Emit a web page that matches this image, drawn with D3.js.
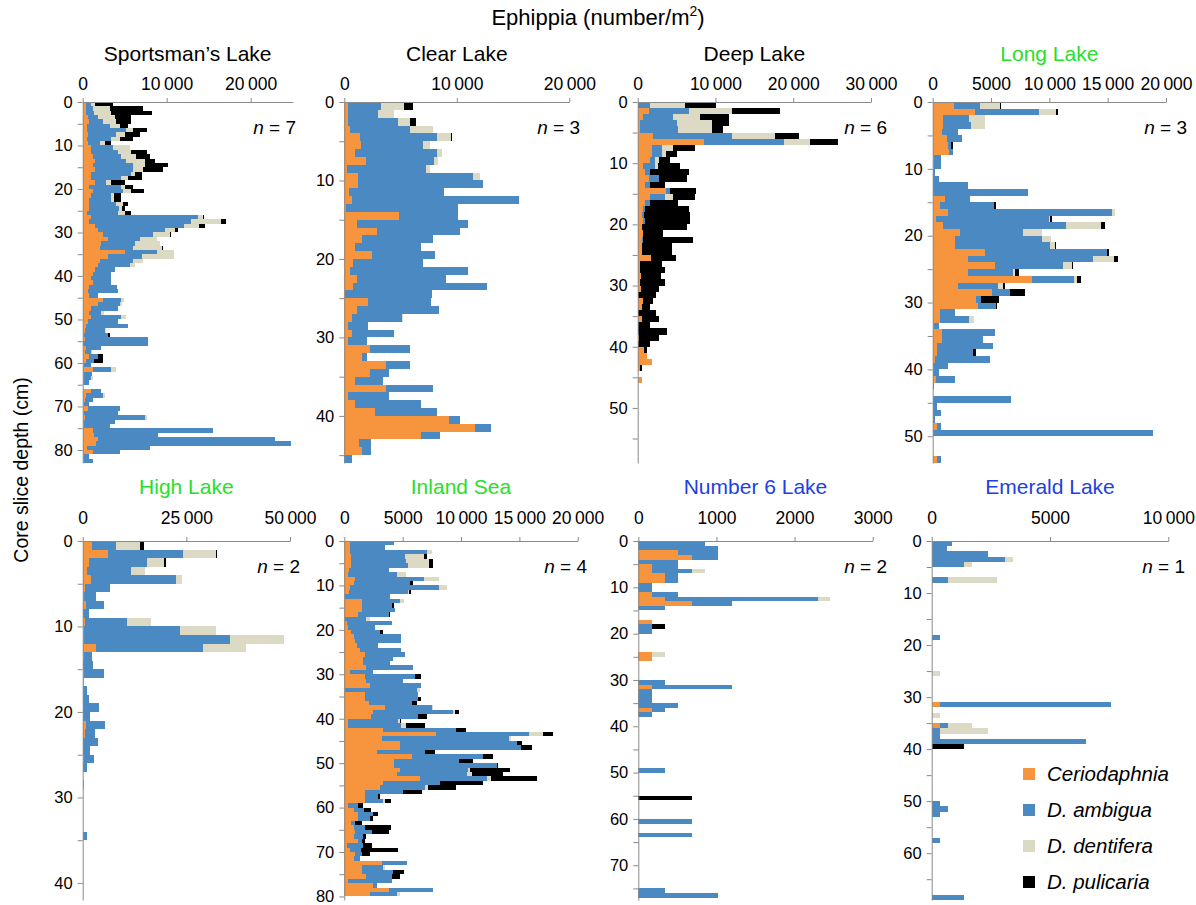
<!DOCTYPE html>
<html>
<head>
<meta charset="utf-8">
<script src="https://cdn.jsdelivr.net/npm/d3@7"></script>
<style>
  body { margin: 0; background: #fff; }
  svg { display: block; }
  text { font-family: "Liberation Sans", Arial, Helvetica, sans-serif; }
</style>
</head>
<body>
<svg id="chart" width="1196" height="905"></svg>
<script>
// species, in stacking order
const speciesNames = ["Ceriodaphnia", "D. ambigua", "D. dentifera", "D. pulicaria"];
const speciesColors = ["#f7943e", "#4a89c2", "#dcd9c5", "#000000"];

const lakeNames = ["Sportsman\u2019s Lake", "Clear Lake", "Deep Lake", "Long Lake",
                   "High Lake", "Inland Sea", "Number 6 Lake", "Emerald Lake"];
const lakeCores = [7, 3, 6, 3, 2, 4, 2, 1];
const titleColors = ["#000", "#000", "#000", "#27e027", "#27e027", "#27e027", "#1d3fe3", "#1d3fe3"];
const xMaxes = [25000, 20000, 30000, 20000, 50000, 20000, 3000, 10000];
const xTickValues = [
  [0, 10000, 20000], [0, 10000, 20000], [0, 10000, 20000, 30000], [0, 5000, 10000, 15000, 20000],
  [0, 25000, 50000], [0, 5000, 10000, 15000, 20000], [0, 1000, 2000, 3000], [0, 5000, 10000]
];
const depthMaxes = [83, 46, 59, 54, 42, 80.8, 77.5, 69];

// ephippia per m2 for each 1 cm slice: [Ceriodaphnia, D. ambigua, D. dentifera, D. pulicaria]
const sportsman = [
  [400,600,500,2100],[400,800,2000,4000],[400,1000,2000,4800],[600,1200,2000,2000],[800,1600,1600,1700],
  [500,2700,1200,1000],[500,4700,800,1600],[600,3400,1000,1800],[500,2900,1000,1600],[600,1400,600,800],
  [1000,2600,2000,0],[1000,3200,1600,1800],[1200,3400,1800,1600],[1500,3700,2200,1200],[1200,4800,1400,2700],
  [1500,4500,1200,2400],[1000,4800,400,800],[1000,3600,800,1700],[1500,1300,600,1600],[800,3800,400,1000],
  [1200,3600,1000,1500],[1000,2400,300,900],[800,2600,300,900],[800,3200,800,600],[800,3500,400,300],
  [500,3700,800,700],[1000,12700,600,100],[800,12100,3600,500],[1500,10600,1800,700],[1800,8000,1200,300],
  [2400,6000,2000,100],[3000,3800,2000,0],[2200,4000,3000,0],[2000,4000,3400,200],[5000,3900,2000,0],
  [3000,4000,3900,0],[2000,4000,1200,0],[1800,3800,600,0],[1500,2300,0,0],[1200,2200,0,0],
  [1000,2400,0,0],[1200,2200,0,0],[800,3300,0,0],[600,3600,0,0],[800,1000,0,0],
  [2400,2200,300,0],[1800,2600,300,0],[1000,3200,0,0],[800,1400,300,0],[1000,3600,500,0],
  [600,3600,0,0],[400,5000,0,0],[300,2300,200,0],[200,2800,0,200],[300,7500,0,0],
  [0,7800,0,0],[400,1800,0,0],[300,700,100,0],[800,1000,0,600],[400,1000,0,1000],
  [200,800,0,0],[1200,2200,600,0],[200,900,0,0],[200,800,200,0],[200,600,0,0],
  [0,0,0,0],[1000,1200,0,0],[400,2000,200,0],[300,900,0,0],[200,600,0,0],
  [600,3800,0,0],[200,4000,0,0],[300,7100,200,0],[200,3600,0,0],[200,3000,0,0],
  [1200,14300,0,0],[1400,7600,0,0],[1800,21100,0,0],[1600,23200,0,0],[500,7500,0,0],
  [1200,3200,0,0],[200,600,0,0],[200,1000,0,0]
];
const clear = [
  [350,2950,2000,800],[350,2650,1400,50],[350,4450,1000,600],[500,5300,2100,0],[1400,6800,1300,100],
  [1450,5550,600,0],[950,7250,500,0],[1900,6100,300,0],[200,7100,300,0],[1200,10200,700,0],
  [1200,11100,0,0],[450,8450,0,0],[650,14850,0,0],[150,9950,0,0],[4900,5200,0,0],
  [1150,9850,0,0],[2900,7400,0,0],[1550,6350,0,0],[950,5850,0,0],[2500,5600,0,0],
  [800,6200,0,0],[500,10500,0,0],[1150,7900,0,0],[800,11900,0,0],[50,7750,0,0],
  [2150,5550,0,0],[1150,7250,0,0],[650,4450,150,0],[300,1850,0,0],[650,3750,0,0],
  [300,1700,0,0],[2300,3500,0,0],[1550,450,0,0],[3700,2100,0,0],[2300,1700,0,0],
  [950,2450,0,0],[3700,4200,0,0],[300,3700,0,0],[950,5850,0,0],[2700,5500,0,0],
  [9300,1000,0,0],[11600,1400,0,0],[6800,1700,0,0],[1350,1000,0,0],[1600,750,0,0],
  [0,650,0,0]
];
const deep = [
  [0,1600,4500,4000],[1400,5250,5450,6200],[700,3800,3500,3800],[300,4700,4500,2300],[300,4900,4300,1500],
  [2000,10100,5600,3100],[8500,10300,3300,3600],[1900,1200,1500,2800],[1800,1300,600,1400],[1600,600,600,1300],
  [700,1500,400,2900],[900,700,0,5000],[1400,1300,0,3600],[900,700,0,1900],[3700,400,0,3400],
  [1600,1900,1000,2900],[900,700,0,3600],[700,200,0,5750],[500,300,0,5900],[700,200,0,5800],
  [500,100,0,5800],[700,0,0,2500],[600,100,0,6400],[600,0,0,3800],[500,0,0,3900],
  [1700,0,0,3200],[300,0,0,2800],[300,0,0,3200],[400,0,0,2600],[300,0,0,3200],
  [400,0,0,2300],[100,0,0,2300],[700,0,0,1300],[500,0,0,1100],[100,0,0,2300],
  [500,0,0,2300],[100,0,0,1500],[100,0,0,3700],[200,0,0,2500],[100,0,0,1500],
  [800,0,0,400],[1200,0,0,0],[1800,0,0,0],[300,0,0,300],[0,0,0,0],
  [500,0,0,0]
];
const long = [
  [1850,2200,1750,50],[3600,5500,1500,100],[900,2250,1350,0],[900,2400,1200,0],[800,1350,0,0],
  [1200,1350,0,0],[1350,250,0,100],[1400,350,0,0],[150,600,0,0],[100,650,0,0],
  [0,200,0,0],[0,500,0,0],[0,3000,0,0],[0,8200,0,0],[1050,2150,0,0],
  [600,4650,0,200],[1350,14050,200,0],[300,9700,50,150],[900,10500,3000,400],[2350,5350,1700,0],
  [1900,7450,800,0],[1950,8100,450,100],[4500,10400,0,200],[3050,10650,1800,350],[5300,5900,700,100],
  [3000,3850,200,350],[8500,3600,250,350],[2200,3400,400,200],[5050,1550,0,1350],[3700,400,0,1600],
  [3900,1500,0,150],[600,1300,0,50],[600,2550,350,0],[100,450,0,0],[800,4550,0,0],
  [800,3550,0,0],[350,4800,0,0],[350,3100,0,250],[200,4700,0,0],[0,1300,0,0],
  [0,550,0,0],[300,1650,0,0],[0,150,0,0],[0,0,0,0],[0,6700,0,0],
  [0,350,0,0],[0,700,0,0],[0,200,0,0],[350,350,0,0],[0,18900,0,0],
  [0,0,0,0],[0,0,0,0],[0,0,0,0],[350,350,0,0]
];
const high = [
  [2200,5800,5800,900],[6200,18000,7900,300],[1600,13900,4100,400],[1000,10600,3400,0],[1900,20500,1600,0],
  [600,6000,0,0],[400,2800,0,0],[700,4400,0,0],[0,1400,0,0],[600,10200,5600,0],
  [400,23000,8700,0],[400,35200,13000,0],[3200,25800,10300,0],[300,2000,0,0],[0,2600,0,0],
  [300,4800,0,0],[400,0,0,0],[0,1000,0,0],[0,1400,0,0],[0,4000,0,0],
  [0,1800,0,0],[800,4600,0,0],[500,2500,0,0],[0,3600,0,0],[0,1800,0,0],
  [400,2300,0,0],[0,1000,0,0],[0,0,0,0],[300,0,0,0],[0,0,0,0],
  [0,0,0,0],[0,0,0,0],[0,0,0,0],[0,0,0,0],[0,1000,0,0]
];
const inland = [
  [500,3800,0,0],[500,3000,0,0],[500,6550,450,0],[600,4600,1600,300],[600,4700,2000,300],
  [600,4900,1800,300],[400,3400,0,0],[300,4200,800,0],[900,5900,1300,0],[800,4800,0,250],
  [500,7600,700,0],[400,5100,50,150],[100,3800,0,0],[1500,3300,300,0],[1500,2550,0,200],
  [1500,2850,0,0],[1200,2600,0,100],[100,1800,300,0],[200,3850,0,0],[300,2300,0,0],
  [600,2450,0,300],[800,4100,0,0],[900,4000,0,0],[1100,1800,0,0],[1350,3550,0,0],
  [1800,3400,0,0],[1600,2600,0,0],[1600,2300,0,0],[1900,4000,0,0],[500,2000,0,0],
  [1800,4250,0,550],[1900,3150,0,0],[2200,4400,0,0],[100,6100,300,0],[1800,4500,50,0],
  [1800,4500,0,300],[2100,3700,0,400],[3500,4000,100,0],[2500,6800,150,350],[2300,4000,0,750],
  [350,4250,200,100],[350,4550,350,1650],[3300,6300,0,800],[7900,7900,1200,900],[3200,10900,150,50],
  [4800,10000,0,400],[4800,10300,0,1000],[2800,4100,0,900],[5800,6100,0,800],[4300,5500,0,1200],
  [4300,8800,0,100],[4800,5800,200,3400],[4500,6000,400,2700],[6500,5700,400,3900],[3300,4900,0,3700],
  [3100,3800,300,2400],[1800,3250,0,1650],[1800,1100,0,200],[1800,1550,100,550],[350,850,0,400],
  [800,900,0,600],[1200,1300,0,400],[1200,1000,0,300],[600,300,0,600],[800,1000,0,2200],
  [900,1450,0,1500],[800,800,0,300],[1200,300,0,300],[200,1400,0,750],[500,900,0,3200],
  [900,600,0,700],[800,550,0,0],[3200,2150,0,0],[1500,1850,150,0],[1500,2700,0,900],
  [1900,2150,0,750],[350,3700,0,0],[2500,300,0,0],[3800,3800,0,0],[2200,2300,300,0]
];
const number6 = [
  [0,853,0,0],[0,1015,0,0],[512,503,0,0],[683,332,0,0],[0,512,0,0],
  [171,341,0,0],[171,512,170,0],[341,171,0,0],[341,171,0,0],[0,171,0,0],
  [0,171,0,0],[171,341,0,0],[341,1955,158,0],[683,512,0,0],[0,341,0,0],
  [0,0,0,0],[0,0,0,0],[171,0,0,0],[0,171,0,170],[0,171,0,0],
  [0,0,0,0],[0,0,0,0],[0,0,0,0],[0,0,0,0],[171,0,170,0],
  [171,0,0,0],[0,0,0,0],[0,0,0,0],[0,0,0,0],[0,0,0,0],
  [0,341,0,0],[171,1024,0,0],[0,171,0,0],[0,171,0,0],[0,171,0,0],
  [0,512,0,0],[171,170,0,0],[0,171,0,0],[0,0,0,0],[0,0,0,0],
  [0,0,0,0],[0,0,0,0],[0,0,0,0],[0,0,0,0],[0,0,0,0],
  [0,0,0,0],[0,0,0,0],[0,0,0,0],[0,0,0,0],[0,341,0,0],
  [0,0,0,0],[0,0,0,0],[0,0,0,0],[0,0,0,0],[0,0,0,0],
  [0,0,0,683],[0,0,0,0],[0,0,0,0],[0,0,0,0],[0,0,0,0],
  [0,683,0,0],[0,0,0,0],[0,0,0,0],[0,683,0,0],[0,0,0,0],
  [0,0,0,0],[0,0,0,0],[0,0,0,0],[0,0,0,0],[0,0,0,0],
  [0,0,0,0],[0,0,0,0],[0,0,0,0],[0,0,0,0],[0,0,0,0],
  [0,341,0,0],[0,1015,0,0]
];
const emerald = [
  [0,850,0,0],[0,660,0,0],[0,2400,0,0],[0,3100,350,0],[0,1370,350,0],
  [0,0,0,0],[0,0,0,0],[0,700,2050,0],[0,0,0,0],[0,0,0,0],
  [0,0,0,0],[0,0,0,0],[0,0,0,0],[0,0,0,0],[0,0,0,0],
  [0,0,0,0],[0,0,0,0],[0,0,0,0],[0,350,0,0],[0,0,0,0],
  [0,0,0,0],[0,0,0,0],[0,0,0,0],[0,0,0,0],[0,0,0,0],
  [0,0,350,0],[0,0,0,0],[0,0,0,0],[0,0,0,0],[0,0,0,0],
  [0,0,0,0],[350,7210,0,0],[0,0,0,0],[0,0,350,0],[0,0,0,0],
  [350,350,1020,0],[0,350,2050,0],[0,350,0,0],[0,6520,0,0],[0,0,0,1370],
  [0,0,0,0],[0,0,0,0],[0,0,0,0],[0,0,0,0],[0,0,0,0],
  [0,0,0,0],[0,0,0,0],[0,0,0,0],[0,0,0,0],[0,0,0,0],
  [0,350,0,0],[0,700,0,0],[0,350,0,0],[0,0,0,0],[0,0,0,0],
  [0,0,0,0],[0,0,0,0],[0,350,0,0],[0,0,0,0],[0,0,0,0],
  [0,0,0,0],[0,0,0,0],[0,0,0,0],[0,0,0,0],[0,0,0,0],
  [0,0,0,0],[0,0,0,0],[0,0,0,0],[0,1370,0,0]
];
const lakeData = [sportsman, clear, deep, long, high, inland, number6, emerald];

// panel placement (pixels)
const panelLeft  = [82.7, 344.3, 637.7, 932.7, 82.7, 344.3, 638.3, 931.7];
const panelWidth = [210, 225, 233.3, 233.3, 207.3, 233.4, 234.4, 236.6];
const rowTop = [102, 541];
const rowHeight = [361, 359];
const nLabelRight = [296, 580, 887, 1187, 300, 587, 887, 1185];

const axisColor = "#8a8a8a";

const svg = d3.select("#chart");

const tickFmt = v => v >= 10000 ? d3.format(",")(v).replace(/,/g, "\u2009") : String(v);

// main title
const mainTitle = svg.append("text")
    .attr("x", 598).attr("y", 25)
    .attr("text-anchor", "middle")
    .attr("font-size", 22)
    .text("Ephippia (number/m");
mainTitle.append("tspan").attr("font-size", 14).attr("dy", -9).text("2");
mainTitle.append("tspan").attr("dy", 9).text(")");

// y label
svg.append("text")
    .attr("transform", "rotate(-90)")
    .attr("x", -470).attr("y", 28)
    .attr("text-anchor", "middle")
    .attr("font-size", 19.5)
    .text("Core slice depth (cm)");

lakeData.forEach((rows, i) => {
    const r = i < 4 ? 0 : 1;
    const top = rowTop[r];
    const left = panelLeft[i];
    const g = svg.append("g");

    const x = d3.scaleLinear()
        .domain([0, xMaxes[i]])
        .range([left, left + panelWidth[i]]);

    const y = d3.scaleLinear()
        .domain([0, depthMaxes[i]])
        .range([top, top + rowHeight[r]]);

    const series = d3.stack().keys([0, 1, 2, 3])(rows);

    // Bars
    g.selectAll("g.layer")
        .data(series)
        .join("g")
        .attr("class", "layer")
        .attr("fill", (d, k) => speciesColors[k])
        .selectAll("rect")
        .data(d => d.map((v, depth) => ({ v, depth })).filter(e => e.v[1] > e.v[0]))
        .join("rect")
        .attr("shape-rendering", "crispEdges")
        .attr("x", e => x(e.v[0]))
        .attr("width", e => x(e.v[1]) - x(e.v[0]))
        .attr("y", e => y(e.depth))
        .attr("height", e => y(e.depth + 1) - y(e.depth));

    // X axis (top)
    const xa = g.append("g")
        .attr("transform", `translate(0,${top})`)
        .call(d3.axisTop(x)
            .tickValues(xTickValues[i])
            .tickSize(4)
            .tickSizeOuter(0)
            .tickPadding(r === 0 ? 8 : 13)
            .tickFormat(tickFmt));

    // Y axis
    const ya = g.append("g")
        .attr("transform", `translate(${left},0)`)
        .call(d3.axisLeft(y)
            .tickValues(d3.range(0, depthMaxes[i], 5))
            .tickSize(5)
            .tickSizeOuter(0)
            .tickPadding(5)
            .tickFormat(d => d % 10 === 0 ? d : ""));

    [xa, ya].forEach(a => {
        a.select(".domain").attr("stroke", axisColor);
        a.selectAll(".tick line").attr("stroke", axisColor);
        a.selectAll(".tick text")
            .attr("fill", "#000")
            .attr("font-family", "'Liberation Sans', Arial, sans-serif");
    });
    xa.selectAll(".tick text").attr("font-size", 17.5);
    ya.selectAll(".tick text").attr("font-size", 16.5);

    // Panel title
    g.append("text")
        .attr("x", left + panelWidth[i] / 2)
        .attr("y", r === 0 ? 61 : 494)
        .attr("text-anchor", "middle")
        .attr("font-size", 21)
        .attr("fill", titleColors[i])
        .text(lakeNames[i]);

    // n label
    const nl = g.append("text")
        .attr("x", nLabelRight[i])
        .attr("y", top + 32)
        .attr("text-anchor", "end")
        .attr("font-size", 19);
    nl.append("tspan").attr("font-style", "italic").text("n");
    nl.append("tspan").text(" = " + lakeCores[i]);
});

// Legend
const legend = svg.append("g").attr("transform", "translate(1023,774)");
speciesNames.forEach((name, k) => {
    legend.append("rect")
        .attr("x", 0).attr("y", k * 36 - 6)
        .attr("width", 12).attr("height", 12)
        .attr("fill", speciesColors[k]);
    legend.append("text")
        .attr("x", 24).attr("y", k * 36)
        .attr("dy", "0.35em")
        .attr("font-size", 20.5)
        .attr("font-style", "italic")
        .text(name);
});
</script>
</body>
</html>
